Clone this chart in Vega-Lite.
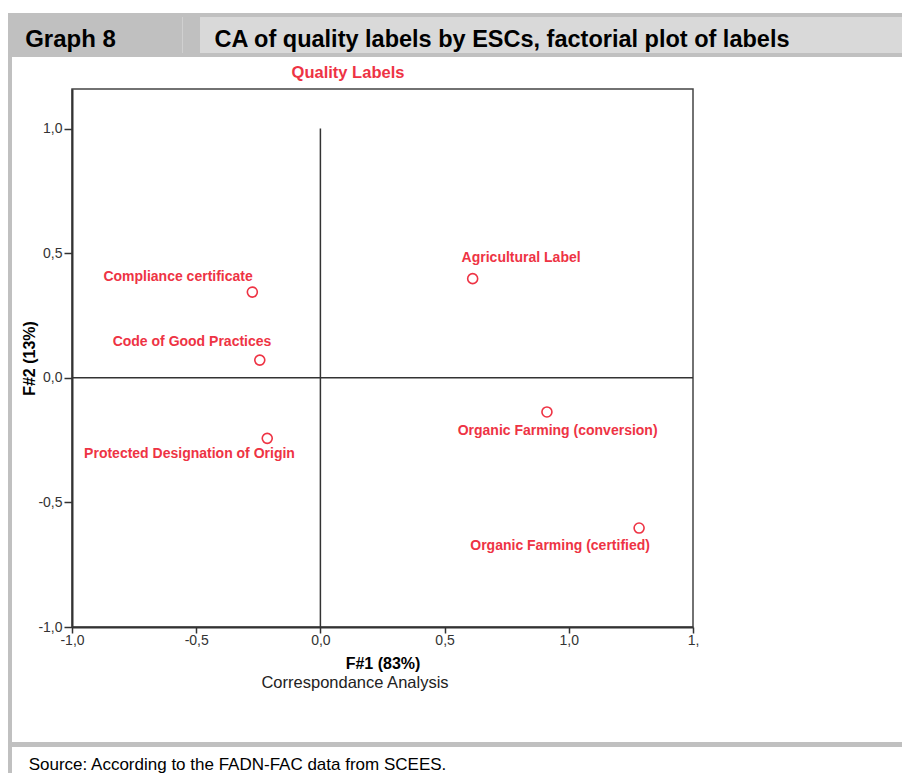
{
  "$schema": "https://vega.github.io/schema/vega-lite/v6.json",
  "background": "white",
  "padding": {"left": 8, "top": 13, "right": 0, "bottom": 0},
  "spacing": 0,
  "datasets": {
    "labels": [
      {"label": "Compliance certificate", "f1": -0.274, "f2": 0.344, "lf1": -0.573, "lf2": 0.403},
      {"label": "Code of Good Practices", "f1": -0.244, "f2": 0.071, "lf1": -0.517, "lf2": 0.142},
      {"label": "Protected Designation of Origin", "f1": -0.214, "f2": -0.243, "lf1": -0.527, "lf2": -0.307},
      {"label": "Agricultural Label", "f1": 0.613, "f2": 0.398, "lf1": 0.808, "lf2": 0.48},
      {"label": "Organic Farming (conversion)", "f1": 0.912, "f2": -0.137, "lf1": 0.955, "lf2": -0.215},
      {"label": "Organic Farming (certified)", "f1": 1.283, "f2": -0.603, "lf1": 0.965, "lf2": -0.675}
    ],
    "zero": [
      {"a": -1, "a2": 1.5, "b": 0, "b2": 0},
      {"a": 0, "a2": 0, "b": -1, "b2": 1}
    ],
    "blank": []
  },
  "vconcat": [
    {
      "vconcat": [
        {
          "width": 894, "height": 4,
          "view": {"fill": "#c0c0c0", "stroke": null},
          "data": {"name": "blank"},
          "mark": {"type": "text", "text": "", "fontSize": 0}
        },
        {
          "hconcat": [
            {
              "width": 125, "height": 36,
              "view": {"fill": "#c0c0c0", "stroke": null},
              "data": {"values": [{"t": "Graph 8"}]},
              "mark": {"type": "text", "font": "Liberation Sans", "fontSize": 24, "fontWeight": "bold", "color": "#000000", "baseline": "alphabetic", "dy": 11.5},
              "encoding": {"text": {"field": "t"}}
            },
            {
              "width": 49, "height": 36,
              "view": {"fill": "#c0c0c0", "stroke": null},
              "data": {"name": "blank"},
              "mark": {"type": "text", "text": "", "fontSize": 0}
            },
            {
              "width": 1, "height": 36,
              "view": {"fill": "#d0d0d0", "stroke": null},
              "data": {"name": "blank"},
              "mark": {"type": "text", "text": "", "fontSize": 0}
            },
            {
              "width": 17, "height": 36,
              "view": {"fill": "#c0c0c0", "stroke": null},
              "data": {"name": "blank"},
              "mark": {"type": "text", "text": "", "fontSize": 0}
            },
            {
              "width": 604, "height": 36,
              "view": {"fill": "#d9d9d9", "stroke": null},
              "data": {"values": [{"t": "CA of quality labels by ESCs, factorial plot of labels"}]},
              "mark": {"type": "text", "font": "Liberation Sans", "fontSize": 23.5, "fontWeight": "bold", "color": "#000000", "baseline": "alphabetic", "dy": 11.5},
              "encoding": {"text": {"field": "t"}}
            },
            {
              "width": 98, "height": 36,
              "view": {"fill": "#d9d9d9", "stroke": null},
              "data": {"name": "blank"},
              "mark": {"type": "text", "text": "", "fontSize": 0}
            }
          ],
          "spacing": 0,
          "bounds": "flush"
        },
        {
          "width": 894, "height": 4,
          "view": {"fill": "#c0c0c0", "stroke": null},
          "data": {"name": "blank"},
          "mark": {"type": "text", "text": "", "fontSize": 0}
        }
      ],
      "spacing": 0
    },
    {
      "hconcat": [
        {
          "width": 4, "height": 685,
          "view": {"fill": "#c0c0c0", "stroke": null},
          "data": {"name": "blank"},
          "mark": {"type": "text", "text": "", "fontSize": 0}
        },
        {
          "vconcat": [
            {
              "width": 552, "height": 32,
              "view": {"stroke": null},
              "data": {"values": [{"t": "Quality Labels"}]},
              "mark": {"type": "text", "font": "Liberation Sans", "fontSize": 16.5, "fontWeight": "bold", "color": "#ee3344"},
              "encoding": {"text": {"field": "t"}}
            },
            {
              "width": 621, "height": 538,
              "view": {"stroke": "#444444", "strokeWidth": 1.5},
              "layer": [
                {
                  "data": {"name": "zero"},
                  "mark": {"type": "rule", "color": "#333333", "strokeWidth": 1.5},
                  "encoding": {
                    "x": {"field": "a", "type": "quantitative",
                      "scale": {"domain": [-1, 1.5], "nice": false, "zero": false},
                      "axis": {"values": [-1, -0.5, 0, 0.5, 1, 1.5], "labelExpr": "datum.value == 1.5 ? '1,' : replace(replace(format(datum.value, '.1f'), '.', ','), '\u2212', '-')", "title": "F#1 (83%)", "grid": false, "domainColor": "#333333", "domainWidth": 2, "tickColor": "#333333", "tickWidth": 1.5, "tickSize": 6, "labelFont": "Liberation Sans", "labelFontSize": 14, "labelColor": "#333333", "labelPadding": 0, "labelFlush": false, "titleFont": "Liberation Sans", "titleFontSize": 16, "titleFontWeight": "bold", "titleColor": "#000000", "titlePadding": 8}},
                    "x2": {"field": "a2"},
                    "y": {"field": "b", "type": "quantitative",
                      "scale": {"domain": [-1, 1.159], "nice": false, "zero": false},
                      "axis": {"values": [-1, -0.5, 0, 0.5, 1], "labelExpr": "replace(replace(format(datum.value, '.1f'), '.', ','), '\u2212', '-')", "title": "F#2 (13%)", "grid": false, "domainColor": "#333333", "domainWidth": 2, "tickColor": "#333333", "tickWidth": 1.5, "tickSize": 8, "labelFont": "Liberation Sans", "labelFontSize": 14, "labelColor": "#333333", "labelPadding": 2, "titleFont": "Liberation Sans", "titleFontSize": 16, "titleFontWeight": "bold", "titleColor": "#000000", "titlePadding": 0}},
                    "y2": {"field": "b2"}
                  }
                },
                {
                  "data": {"name": "labels"},
                  "mark": {"type": "point", "shape": "circle", "filled": false, "size": 100, "strokeWidth": 1.6, "color": "#ee3344", "opacity": 1},
                  "encoding": {
                    "x": {"field": "f1", "type": "quantitative"},
                    "y": {"field": "f2", "type": "quantitative"}
                  }
                },
                {
                  "data": {"name": "labels"},
                  "mark": {"type": "text", "font": "Liberation Sans", "fontSize": 14, "fontWeight": "bold", "color": "#ee3344", "align": "center", "baseline": "middle"},
                  "encoding": {
                    "x": {"field": "lf1", "type": "quantitative"},
                    "y": {"field": "lf2", "type": "quantitative"},
                    "text": {"field": "label"}
                  }
                }
              ]
            },
            {
              "width": 566, "height": 112,
              "view": {"stroke": null},
              "data": {"values": [{"t": "Correspondance Analysis"}]},
              "mark": {"type": "text", "font": "Liberation Sans", "fontSize": 16.5, "color": "#222222"},
              "encoding": {"text": {"field": "t"}}
            }
          ],
          "spacing": 0,
          "bounds": "flush"
        }
      ],
      "spacing": 9
    },
    {
      "width": 894, "height": 5,
      "view": {"fill": "#c0c0c0", "stroke": null},
      "data": {"name": "blank"},
      "mark": {"type": "text", "text": "", "fontSize": 0}
    },
    {
      "hconcat": [
        {
          "width": 4, "height": 26,
          "view": {"fill": "#c0c0c0", "stroke": null},
          "data": {"name": "blank"},
          "mark": {"type": "text", "text": "", "fontSize": 0}
        },
        {
          "width": 451, "height": 26,
          "view": {"stroke": null},
          "data": {"values": [{"t": "Source: According to the FADN-FAC data from SCEES."}]},
          "mark": {"type": "text", "font": "Liberation Sans", "fontSize": 17, "color": "#000000", "baseline": "alphabetic", "dy": 10},
          "encoding": {"text": {"field": "t"}}
        }
      ],
      "spacing": 0,
      "bounds": "flush"
    }
  ]
}
